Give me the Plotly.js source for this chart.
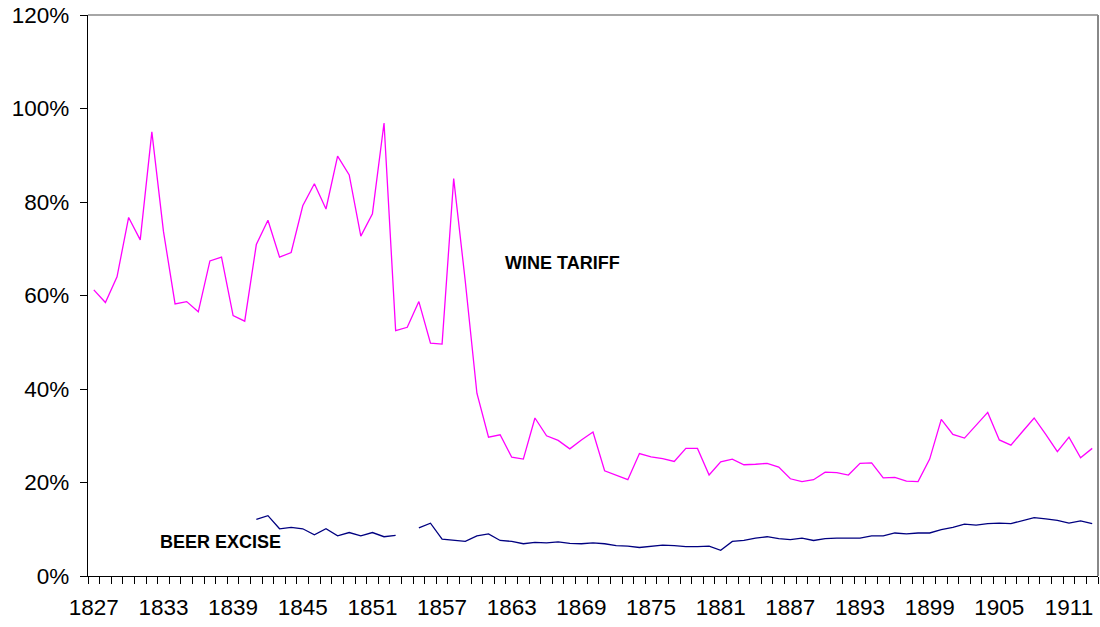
<!DOCTYPE html>
<html>
<head>
<meta charset="utf-8">
<script src="https://cdn.plot.ly/plotly-3.0.1.min.js"></script>
<style>html,body{margin:0;padding:0;background:#fff;}#chart{width:1100px;height:627px;}</style>
</head>
<body>
<div id="chart"></div>
<script>
var years = [];
for (var yr = 1827; yr <= 1913; yr++) years.push(yr);

var wineTariff = [
  61.2, 58.5, 64.0, 76.7, 71.9, 95.0, 73.7, 58.2, 58.7, 56.5,
  67.4, 68.2, 55.7, 54.5, 70.9, 76.1, 68.2, 69.2, 79.2, 83.9,
  78.5, 89.8, 85.8, 72.7, 77.5, 96.9, 52.5, 53.2, 58.7, 49.8,
  49.6, 85.0, 63.0, 39.1, 29.7, 30.2, 25.4, 25.0, 33.8, 30.0,
  29.0, 27.2, 29.1, 30.8, 22.5, 21.6, 20.6, 26.2, 25.5, 25.1,
  24.5, 27.3, 27.3, 21.6, 24.4, 25.0, 23.8, 23.9, 24.1, 23.3,
  20.8, 20.2, 20.6, 22.2, 22.1, 21.6, 24.1, 24.2, 21.0, 21.1,
  20.3, 20.2, 25.0, 33.5, 30.3, 29.5, 32.2, 35.0, 29.1, 28.0,
  30.9, 33.8, 30.3, 26.6, 29.7, 25.3, 27.3
];

var beerExcise = [
  null, null, null, null, null, null, null, null, null, null,
  null, null, null, null, 12.1, 12.9, 10.1, 10.4, 10.1, 8.8,
  10.1, 8.6, 9.3, 8.6, 9.3, 8.4, 8.7, null, 10.3, 11.3,
  7.9, 7.6, 7.4, 8.6, 9.0, 7.6, 7.4, 6.9, 7.2, 7.1,
  7.3, 7.0, 6.9, 7.1, 6.9, 6.5, 6.4, 6.1, 6.3, 6.6,
  6.5, 6.3, 6.3, 6.4, 5.5, 7.4, 7.6, 8.1, 8.4, 8.0,
  7.8, 8.1, 7.6, 8.0, 8.1, 8.1, 8.1, 8.6, 8.6, 9.2,
  9.0, 9.2, 9.2, 9.9, 10.4, 11.1, 10.9, 11.2, 11.3, 11.2,
  11.9, 12.5, 12.2, 11.9, 11.3, 11.8, 11.2
];

var labelYears = [1827, 1833, 1839, 1845, 1851, 1857, 1863, 1869, 1875, 1881, 1887, 1893, 1899, 1905, 1911];
var labelText = labelYears.map(String);
var yTicks = [0, 20, 40, 60, 80, 100, 120];
var yTickText = ['0%', '20%', '40%', '60%', '80%', '100%', '120%'];

var font = 'Arial, "Liberation Sans", sans-serif';

var traces = [
  {x: years, y: wineTariff, type: 'scatter', mode: 'lines', name: 'WINE TARIFF',
   line: {color: '#FF00FF', width: 1.3}, connectgaps: false, hoverinfo: 'x+y'},
  {x: years, y: beerExcise, type: 'scatter', mode: 'lines', name: 'BEER EXCISE',
   line: {color: '#000080', width: 1.3}, connectgaps: false, hoverinfo: 'x+y'}
];

var layout = {
  width: 1100, height: 627,
  margin: {l: 88, r: 2, t: 15, b: 51, pad: 0},
  paper_bgcolor: '#ffffff', plot_bgcolor: '#ffffff',
  showlegend: false,
  font: {family: font, color: '#000'},
  xaxis: {
    range: [1826.5, 1913.5], fixedrange: true,
    tickmode: 'array', tickvals: labelYears, ticktext: labelText,
    ticks: '', showgrid: false, zeroline: false,
    showline: true, linecolor: '#000', linewidth: 1.2,
    tickfont: {family: font, size: 22.5, color: '#000'},
    ticklabelstandoff: 11,
    minor: {tickmode: 'linear', tick0: 1826.5, dtick: 1, ticks: 'outside', ticklen: 7, tickcolor: '#000', tickwidth: 1, showgrid: false}
  },
  yaxis: {
    range: [0, 120], fixedrange: true,
    tickmode: 'array', tickvals: yTicks, ticktext: yTickText,
    ticks: 'outside', ticklen: 7, tickcolor: '#000', tickwidth: 1,
    showgrid: false, zeroline: false,
    showline: true, linecolor: '#000', linewidth: 1.2,
    tickfont: {family: font, size: 22.5, color: '#000'},
    ticklabelstandoff: 6
  },
  shapes: [
    {type: 'line', xref: 'paper', yref: 'paper', x0: 0, x1: 1, y0: 1, y1: 1, line: {color: '#888888', width: 1.5}},
    {type: 'line', xref: 'paper', yref: 'paper', x0: 1, x1: 1, y0: 0, y1: 1, line: {color: '#888888', width: 2}}
  ],
  annotations: [
    {text: '<b>WINE TARIFF</b>', x: 1867.4, y: 67, xref: 'x', yref: 'y', showarrow: false,
     font: {family: font, size: 18, color: '#000'}, xanchor: 'center', yanchor: 'middle'},
    {text: '<b>BEER EXCISE</b>', x: 1837.9, y: 7.2, xref: 'x', yref: 'y', showarrow: false,
     font: {family: font, size: 18, color: '#000'}, xanchor: 'center', yanchor: 'middle'}
  ]
};

Plotly.newPlot('chart', traces, layout, {displayModeBar: false, staticPlot: true});
</script>
</body>
</html>
